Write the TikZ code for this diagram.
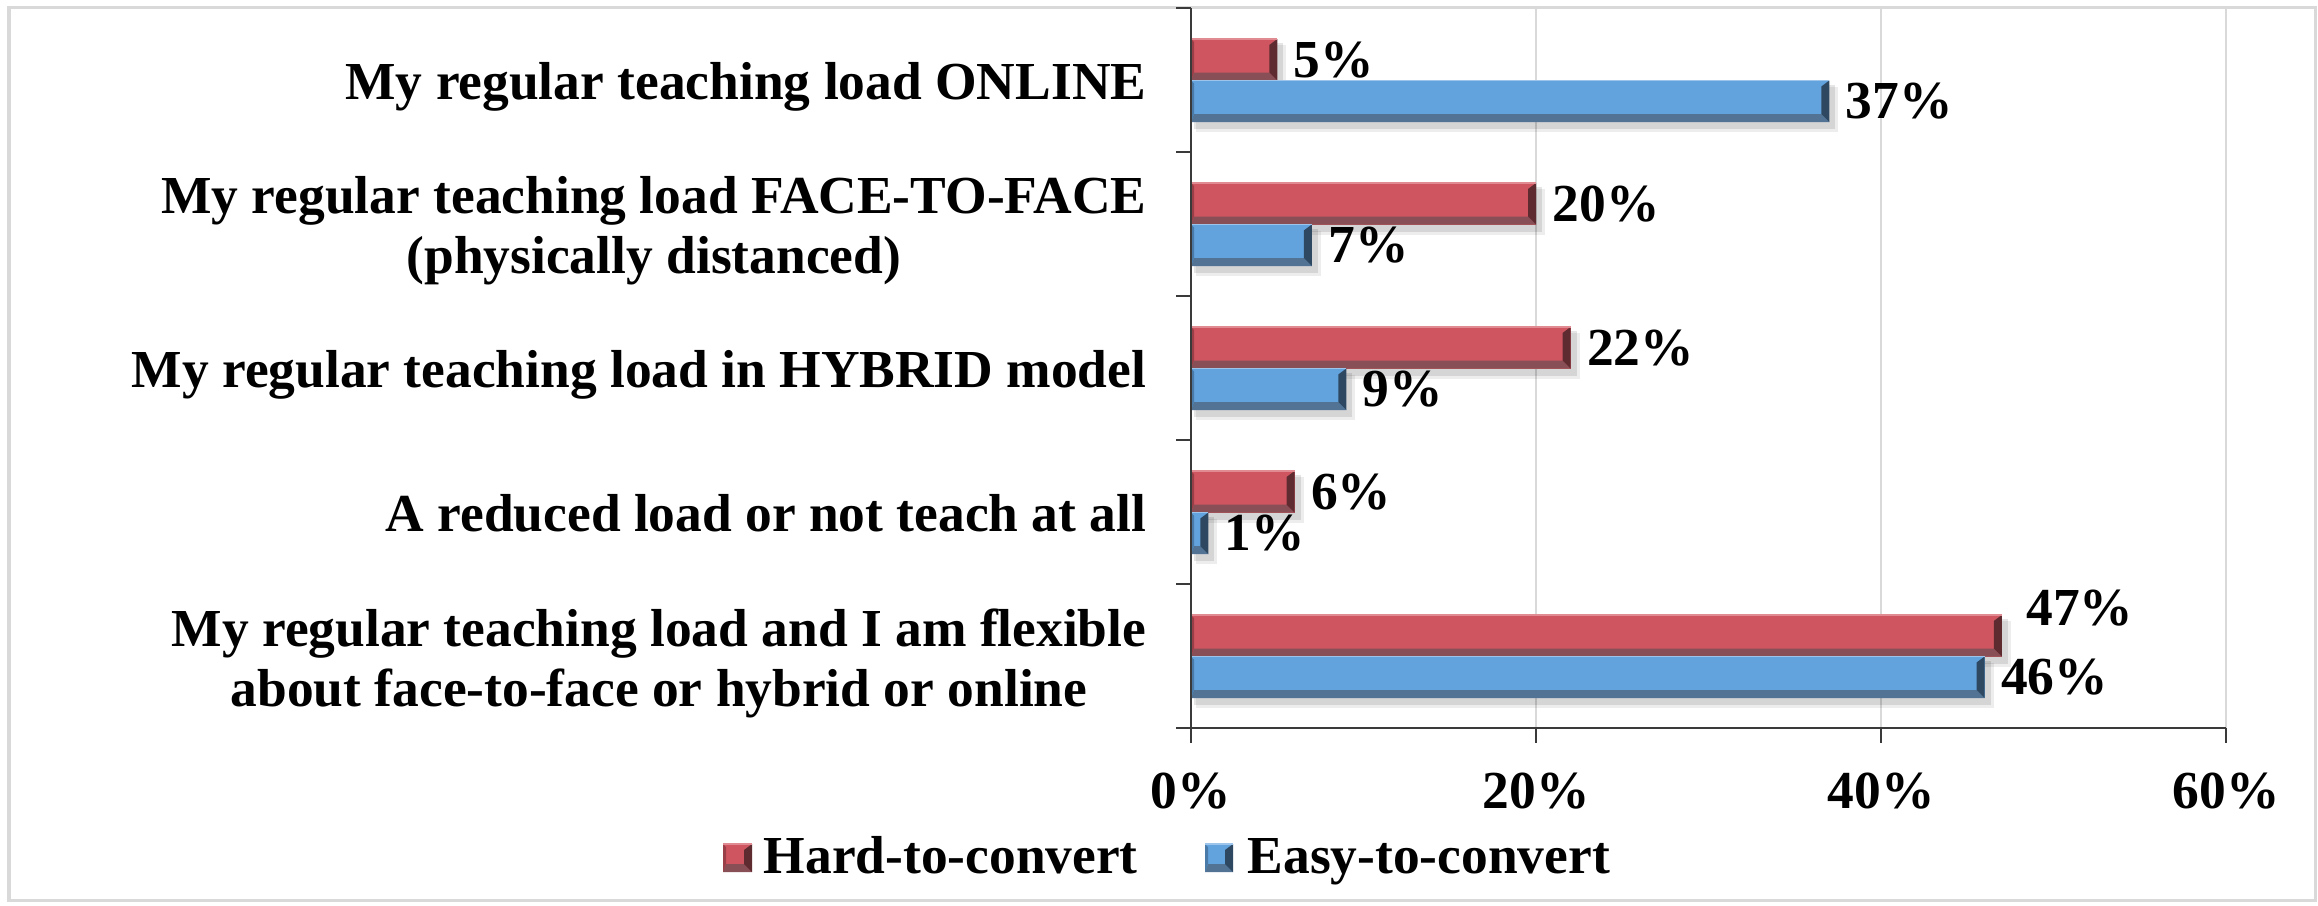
\documentclass[tikz,border=0pt]{standalone}
\usepackage{fontspec}
\setmainfont{Liberation Serif}
\usetikzlibrary{positioning}

\definecolor{hardmain}{HTML}{CF5661}
\definecolor{hardbot}{HTML}{884F56}
\definecolor{hardside}{HTML}{5E2B31}
\definecolor{hardleft}{HTML}{9A3F47}
\definecolor{hardtop}{HTML}{E08A92}
\definecolor{easymain}{HTML}{62A3DD}
\definecolor{easybot}{HTML}{527394}
\definecolor{easyside}{HTML}{2F4862}
\definecolor{easyleft}{HTML}{4A7BA8}
\definecolor{easytop}{HTML}{9DC4EA}
\definecolor{framegray}{HTML}{D9D9D9}
\definecolor{axisgray}{HTML}{3A3A3A}

% soft shadow under a bar
\newcommand{\barshadow}[4]{%
  \fill[black,opacity=.10] (#1+3,#2+4) rectangle (#3+6,#4+7);
  \fill[black,opacity=.07] (#1+5,#2+6) rectangle (#3+9,#4+10);
}
% bevelled bar: left, top, right, bottom, colour prefix
\newcommand{\bevelbar}[5]{%
  \fill[#5main] (#1,#2) rectangle (#3,#4);
  \fill[#5bot] (#1,#4) -- (#3,#4) -- (#3-8,#4-8) -- (#1+3,#4-8) -- cycle;
  \fill[#5side] (#3,#2) -- (#3,#4) -- (#3-8,#4-8) -- (#3-8,#2+6) -- cycle;
  \fill[#5left] (#1,#2) -- (#1+3,#2+3) -- (#1+3,#4-8) -- (#1,#4) -- cycle;
  \draw[#5top,line width=0.015cm] (#1,#2) -- (#3,#2);
}

\begin{document}
\begin{tikzpicture}[x=0.01cm,y=-0.01cm,
  every node/.style={font=\fontsize{15.2}{17}\selectfont\bfseries,inner sep=0pt},
  catlabel/.style={anchor=north east,align=center},
  vallabel/.style={anchor=west},
  ticklabel/.style={anchor=base},
  gridline/.style={framegray,line width=0.02cm},
  axisline/.style={axisgray,line width=0.025cm}]
  \pgfmathsetmacro{\AxisX}{1191}
  \pgfmathsetmacro{\AxisY}{728}
  \pgfmathsetmacro{\TopY}{8}
  \pgfmathsetmacro{\CatH}{144}
  \pgfmathsetmacro{\PctW}{17.25}
  \useasboundingbox (0,0) rectangle (2318,905);
  \draw[framegray,line width=0.03cm] (9,7) rectangle (2315,900);

  % grid
  \foreach \p in {20,40,60}
    \draw[gridline] (\AxisX+\p*\PctW,\TopY) -- (\AxisX+\p*\PctW,\AxisY);

  % bars, one category per row
  \foreach \lab/\ly/\hv/\ev/\hx/\hy [count=\k from 0] in {
      {My regular teaching load ONLINE}/-18/5/37/16/0,
      {My regular teaching load FACE-TO-FACE\\(physically distanced)}/-48/20/7/16/0,
      {My regular teaching load in HYBRID model}/-18/22/9/16/0,
      {A reduced load or not teach at all}/-18/6/1/16/0,
      {My regular teaching load and I am flexible\\about face-to-face or hybrid or online}/-48/47/46/24/-28}
  {
    \pgfmathsetmacro{\ct}{\TopY+\k*\CatH}
    \barshadow{\AxisX}{\ct+31}{\AxisX+\hv*\PctW}{\ct+72.5}
    \barshadow{\AxisX}{\ct+72.5}{\AxisX+\ev*\PctW}{\ct+114}
    \bevelbar{\AxisX}{\ct+31}{\AxisX+\hv*\PctW}{\ct+72.5}{hard}
    \bevelbar{\AxisX}{\ct+72.5}{\AxisX+\ev*\PctW}{\ct+114}{easy}
    \node[catlabel] (cat\k) at (1147,\ct+72+\ly) {\lab};
    \node[vallabel] (hv\k) at (\AxisX+\hv*\PctW+\hx,\ct+51.75+\hy) {\hv\%};
    \node[vallabel] (ev\k) at (\AxisX+\ev*\PctW+16,\ct+93.25) {\ev\%};
  }

  % axes
  \draw[axisline] (\AxisX,\TopY) -- (\AxisX,\AxisY) -- (\AxisX+60*\PctW,\AxisY);
  \foreach \j in {0,...,5}
    \draw[axisline] (\AxisX-15,\TopY+\j*\CatH) -- (\AxisX,\TopY+\j*\CatH);
  \foreach \p [count=\i] in {0,20,40,60} {
    \draw[axisline] (\AxisX+\p*\PctW,\AxisY) -- ++(0,15);
    \node[ticklabel] (tick\i) at (\AxisX+\p*\PctW,808) {\p\%};
  }

  % legend
  \bevelbar{723}{844}{752}{872}{hard}
  \bevelbar{1205}{844}{1233}{872}{easy}
  \node[anchor=base west] (hardkey) at (763,873) {Hard-to-convert};
  \node[anchor=base west] (easykey) at (1247,873) {Easy-to-convert};
\end{tikzpicture}
\end{document}
